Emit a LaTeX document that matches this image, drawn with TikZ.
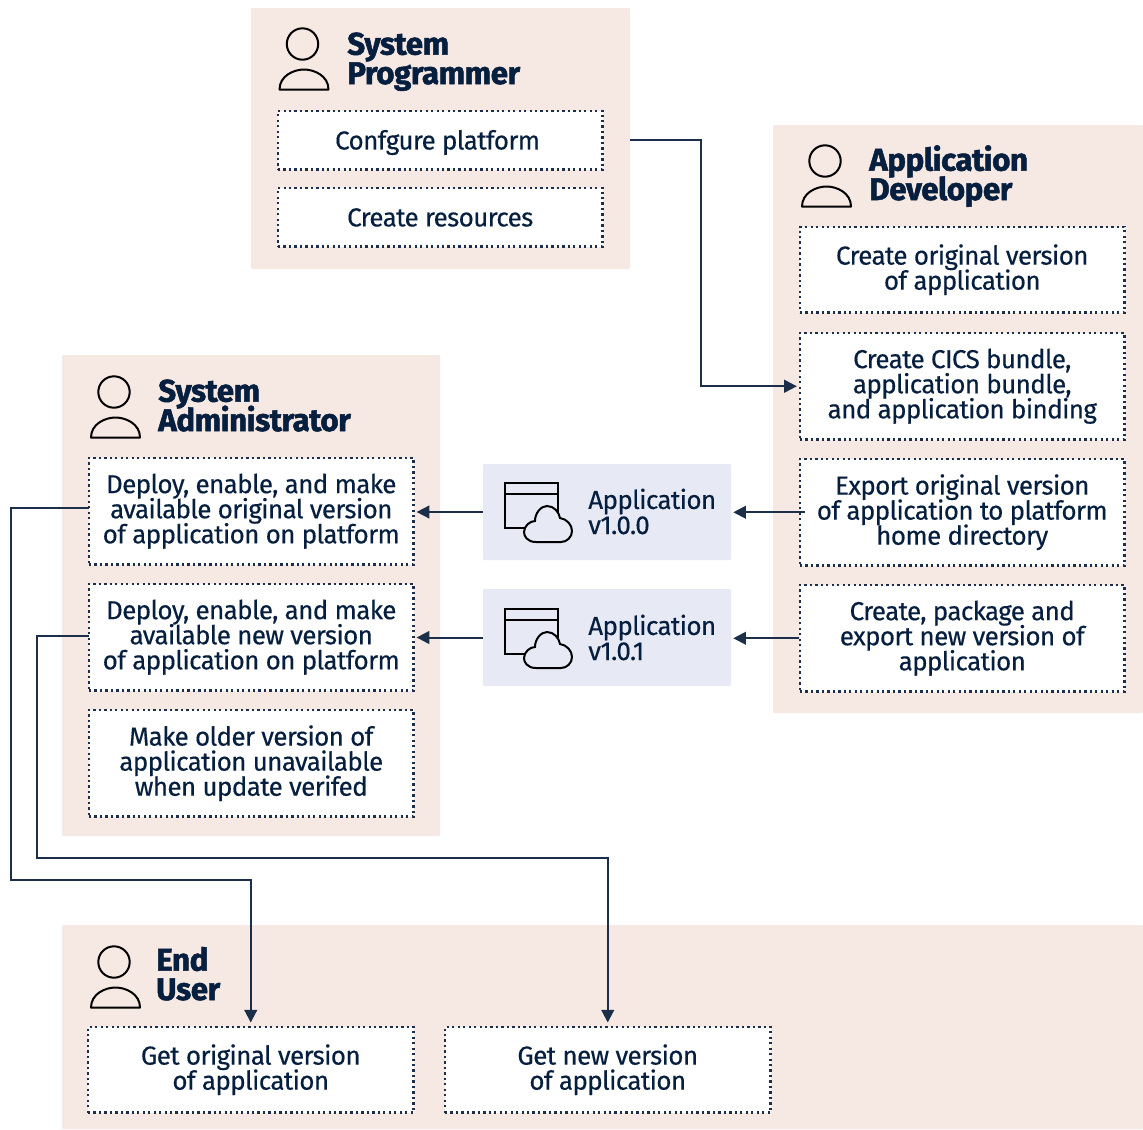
\documentclass[tikz,border=0pt]{standalone}
\usepackage{fontspec}
\usetikzlibrary{arrows.meta}
\setmainfont[LetterSpace=-2.4,FakeBold=0.35]{Fira Sans}
\newfontfamily\ttlfont[UprightFont=*,LetterSpace=-1.4,BoldFeatures={FakeBold=1.6}]{Fira Sans}
\definecolor{ink}{HTML}{061F3F}
\definecolor{wire}{HTML}{1C2F4A}
\definecolor{panelc}{HTML}{F6E8E2}
\definecolor{appc}{HTML}{E7E9F5}
\newcommand{\tightlines}{\lineskiplimit -20pt\relax}
\newcommand{\bodytype}{\fontsize{19.5}{18.8}\selectfont\tightlines}
\newcommand{\headtype}{\ttlfont\bfseries\fontsize{23.5}{22}\selectfont\tightlines}
\newcommand{\rectnode}[7]{%
  \pgfmathsetmacro{\cxx}{(#2+#4)/2}\pgfmathsetmacro{\cyy}{(#3+#5)/2}%
  \pgfmathsetmacro{\wdd}{(#4-#2)*0.75}\pgfmathsetmacro{\htt}{(#5-#3)*0.75}%
  \node[#6,minimum width=\wdd pt,minimum height=\htt pt] (#1) at (\cxx,\cyy) {#7};}
\tikzset{
  x=0.75pt,y=-0.75pt,
  panel/.style={fill=panelc,inner sep=0pt,rounded corners=0.8pt},
  apppanel/.style={fill=appc,inner sep=0pt,rounded corners=0.8pt},
  task/.style={draw=wire,fill=white,line width=1.7pt,dash pattern=on 1.7pt off 2.4pt,inner sep=0pt,align=center,text=ink,font=\bodytype},
  title/.style={anchor=base west,inner sep=0pt,align=left,text=ink,font=\headtype},
  apptext/.style={anchor=base west,inner sep=0pt,align=left,text=ink,font=\bodytype},
  conn/.style={draw=wire,line width=1.5pt},
  arr/.style={conn,-{Triangle[length=9.5pt,width=9.5pt]}},
  person/.pic={
    \draw[black,line width=1.5pt] (0,0) circle[radius=15.7];
    \draw[black,line width=1.5pt,line join=round] (-23,45.5) .. controls (-23,32) and (-9,25.5) .. (1.5,25.5) .. controls (12,25.5) and (26,32) .. (26,45.5) -- cycle;
  },
  appicon/.pic={
    \draw[black,line width=1.5pt] (0,0) rectangle (53,45) (0,11) -- (53,11);
    \draw[black,line width=1.5pt,fill=appc] (31,59) .. controls (22,59) and (19,53) .. (19,49) .. controls (19,43) and (25,38) .. (30,38) .. controls (30,30) and (36,23) .. (42,23) .. controls (49,23) and (54,29) .. (55,35) .. controls (62,36) and (67,42) .. (67,48) .. controls (67,54) and (62,59) .. (56,59) -- cycle;
  }
}
\begin{document}
\begin{tikzpicture}
\useasboundingbox (0,0) rectangle (1143,1129);
% panels
\rectnode{sp}{251}{8}{630}{269}{panel}{}
\rectnode{ad}{773}{125}{1143}{713}{panel}{}
\rectnode{sa}{62}{355}{440}{836}{panel}{}
\rectnode{eu}{62}{925}{1143}{1129}{panel}{}
\rectnode{av0}{483}{464}{731}{560}{apppanel}{}
\rectnode{av1}{483}{589}{731}{686}{apppanel}{}
% persons
\pic at (302.5,44) {person};
\pic at (825,161) {person};
\pic at (114,392) {person};
\pic at (114,962) {person};
% app icons
\pic at (505,483) {appicon};
\pic at (505,609) {appicon};
% titles
\node[title] (tsp) at (347,84) {\textbf{System}\\\textbf{Programmer}};
\node[title] (tad) at (869,200) {\textbf{Application}\\\textbf{Developer}};
\node[title] (tsa) at (158,431) {\textbf{System}\\\textbf{Administrator}};
\node[title] (teu) at (156,1000) {\textbf{End}\\\textbf{User}};
\node[apptext] (lv0) at (588,534) {Application\\v1.0.0};
\node[apptext] (lv1) at (588,660) {Application\\v1.0.1};
% tasks
\rectnode{cfg}{278}{111}{602.5}{169.5}{task}{\rule{0pt}{18pt}Confgure platform\hspace*{4pt}}
\rectnode{res}{278}{188}{602.5}{246.5}{task}{\rule{0pt}{14pt}Create resources}
\rectnode{ad1}{800}{227}{1124.5}{312.5}{task}{Create original version\\of application}
\rectnode{ad2}{800}{333}{1124.5}{439.5}{task}{Create CICS bundle,\\application bundle,\\and application binding}
\rectnode{ad3}{800}{459}{1124.5}{565.5}{task}{Export original version\\of application to platform\\home directory}
\rectnode{ad4}{800}{585}{1124.5}{691.5}{task}{Create, package and\\export new version of\\application}
\rectnode{sa1}{89}{458}{413.5}{564.5}{task}{Deploy, enable, and make\\available original version\\of application on platform}
\rectnode{sa2}{89}{584}{413.5}{690.5}{task}{Deploy, enable, and make\\available new version\\of application on platform}
\rectnode{sa3}{89}{710}{413.5}{816.5}{task}{Make older version of\\application unavailable\\when update verifed}
\rectnode{eu1}{88}{1027}{413.5}{1112.5}{task}{Get original version\\of application}
\rectnode{eu2}{445}{1027}{770.5}{1112.5}{task}{Get new version\\of application}
% connectors
\coordinate (spout) at (630,140);
\coordinate (sa1out) at (89,508);
\coordinate (sa2out) at (89,636);
\draw[arr,shorten >=1.5pt] (spout) -- (701,140) |- (ad2.west);
\draw[arr,shorten >=1.5pt,shorten <=-4.5pt] (ad3.west) -- (ad3.west -| av0.east);
\draw[arr,shorten >=1.5pt] (ad4.west) -- (ad4.west -| av1.east);
\draw[arr,shorten >=1.5pt] (av0.west) -- (av0.west -| sa1.east);
\draw[arr,shorten >=1.5pt] (av1.west) -- (av1.west -| sa2.east);
\draw[arr,shorten >=2.5pt] (sa1out) -- (11,508) -- (11,880) -| (eu1.north);
\draw[arr,shorten >=2.5pt] (sa2out) -- (37,636) -- (37,858) -| (eu2.north);
\end{tikzpicture}
\end{document}
